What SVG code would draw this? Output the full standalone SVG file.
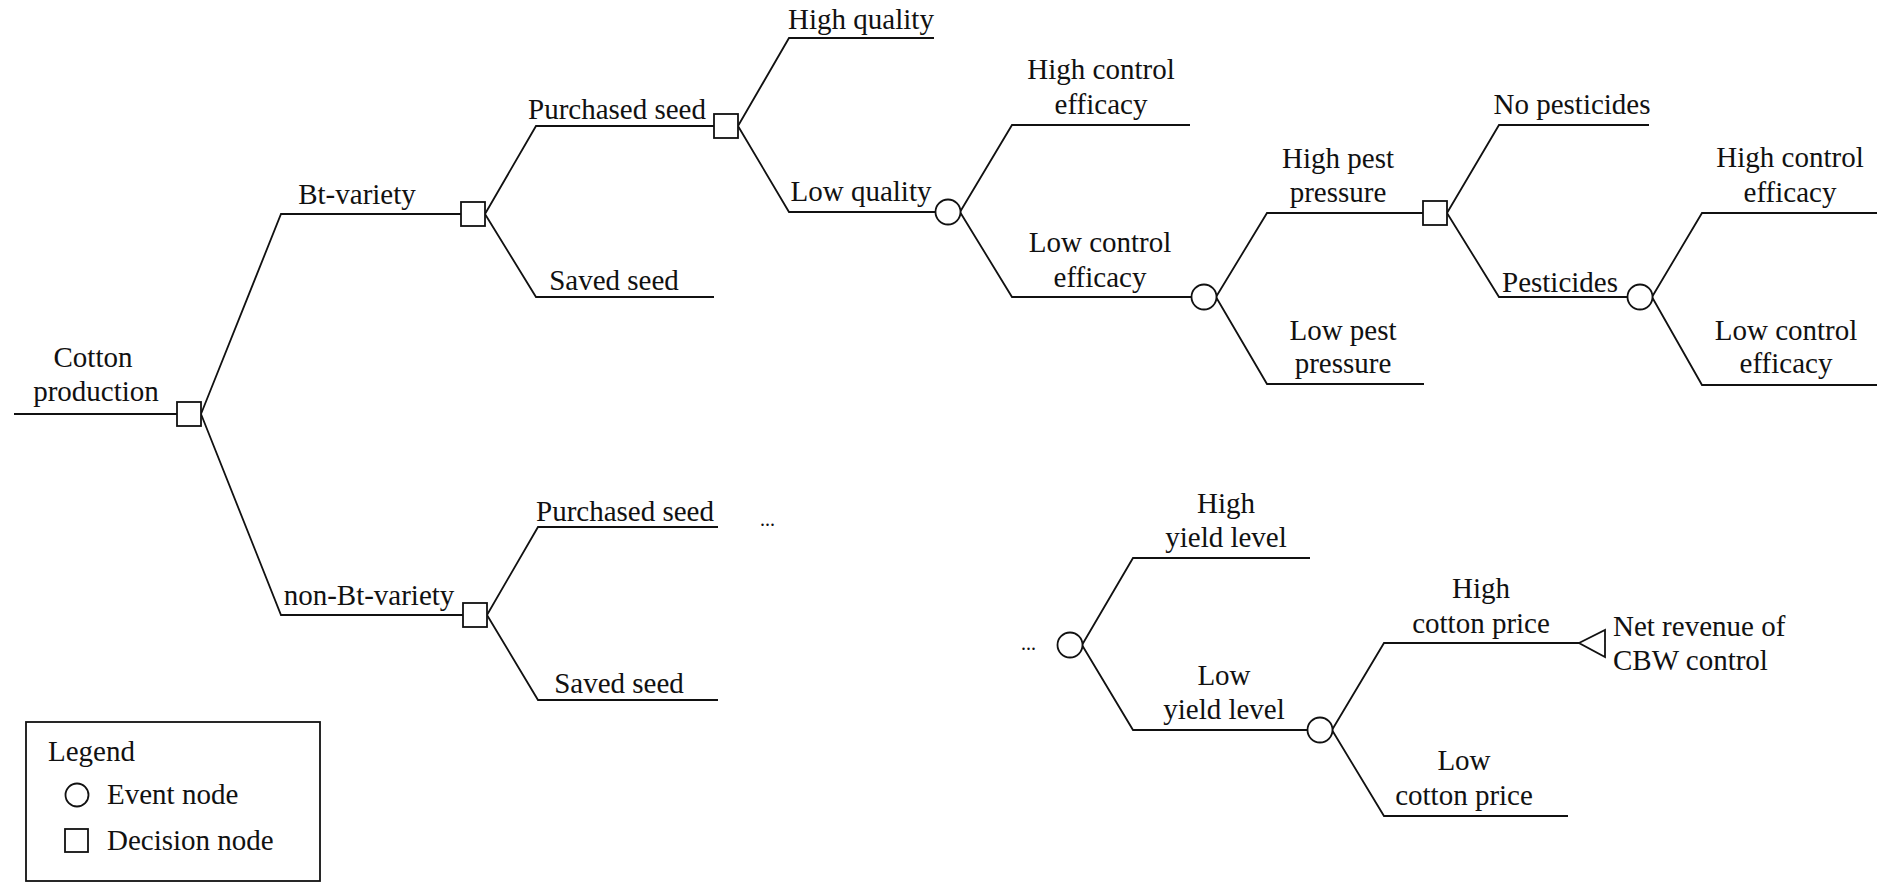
<svg xmlns="http://www.w3.org/2000/svg" width="1887" height="885" viewBox="0 0 1887 885">
<style>
text{font-family:"Liberation Serif","Times New Roman",serif;font-size:29px;fill:#111}
.c{text-anchor:middle}
.dots{font-size:20px}
.e{fill:none;stroke:#111;stroke-width:1.8}
.n{fill:#fff;stroke:#111;stroke-width:1.8}
</style>
<rect width="1887" height="885" fill="#fff"/>
<g id="connectors" class="e">
<path d="M14,414 H177"/>
<path d="M201,414 L281,214 H461"/>
<path d="M201,414 L281,615 H463"/>
<path d="M485,214 L536,126 H714"/>
<path d="M485,214 L536,297 H714"/>
<path d="M738,126 L789,38 H934"/>
<path d="M738,126 L789,212 H935"/>
<path d="M960,212 L1012,125 H1190"/>
<path d="M960,212 L1012,297 H1191"/>
<path d="M1216,297 L1267,213 H1423"/>
<path d="M1216,297 L1267,384 H1424"/>
<path d="M1447,213 L1499,125 H1649"/>
<path d="M1447,213 L1499,297 H1628"/>
<path d="M1652,297 L1702,213 H1877"/>
<path d="M1652,297 L1702,385 H1877"/>
<path d="M487,615 L538,527 H718"/>
<path d="M487,615 L538,700 H718"/>
<path d="M1082,645 L1133,558 H1310"/>
<path d="M1082,645 L1133,730 H1308"/>
<path d="M1332,730 L1384,643 H1579"/>
<path d="M1332,730 L1384,816 H1568"/>
</g>
<g id="root">
<rect class="n" x="177" y="402" width="24" height="24"/>
<text class="c" x="93" y="367">Cotton</text>
<text class="c" x="96" y="401">production</text>
</g>
<g id="bt">
<text class="c" x="357" y="204">Bt-variety</text>
<rect class="n" x="461" y="202" width="24" height="24"/>
</g>
<g id="nonbt">
<text class="c" x="369" y="605">non-Bt-variety</text>
<rect class="n" x="463" y="603" width="24" height="24"/>
</g>
<g id="bt-purchased">
<text class="c" x="617" y="119">Purchased seed</text>
<rect class="n" x="714" y="114" width="24" height="24"/>
</g>
<g id="bt-saved"><text class="c" x="614" y="290">Saved seed</text></g>
<g id="high-quality"><text class="c" x="861" y="29">High quality</text></g>
<g id="low-quality">
<text class="c" x="861" y="201">Low quality</text>
<circle class="n" cx="948" cy="212" r="12.5"/>
</g>
<g id="high-control-1">
<text class="c" x="1101" y="79">High control</text>
<text class="c" x="1101" y="114">efficacy</text>
</g>
<g id="low-control-1">
<text class="c" x="1100" y="252">Low control</text>
<text class="c" x="1100" y="287">efficacy</text>
<circle class="n" cx="1204" cy="297" r="12.5"/>
</g>
<g id="high-pest">
<text class="c" x="1338" y="168">High pest</text>
<text class="c" x="1338" y="202">pressure</text>
<rect class="n" x="1423" y="201" width="24" height="24"/>
</g>
<g id="low-pest">
<text class="c" x="1343" y="340">Low pest</text>
<text class="c" x="1343" y="373">pressure</text>
</g>
<g id="no-pesticides"><text class="c" x="1572" y="114">No pesticides</text></g>
<g id="pesticides">
<text class="c" x="1560" y="292">Pesticides</text>
<circle class="n" cx="1640" cy="297" r="12.5"/>
</g>
<g id="high-control-2">
<text class="c" x="1790" y="167">High control</text>
<text class="c" x="1790" y="202">efficacy</text>
</g>
<g id="low-control-2">
<text class="c" x="1786" y="340">Low control</text>
<text class="c" x="1786" y="373">efficacy</text>
</g>
<g id="nonbt-purchased">
<text class="c" x="625" y="521">Purchased seed</text>
<text class="dots" x="760" y="526">...</text>
</g>
<g id="nonbt-saved"><text class="c" x="619" y="693">Saved seed</text></g>
<g id="yield">
<text class="dots" x="1021" y="650">...</text>
<circle class="n" cx="1070" cy="645" r="12.5"/>
</g>
<g id="high-yield">
<text class="c" x="1226" y="513">High</text>
<text class="c" x="1226" y="547">yield level</text>
</g>
<g id="low-yield">
<text class="c" x="1224" y="685">Low</text>
<text class="c" x="1224" y="719">yield level</text>
<circle class="n" cx="1320" cy="730" r="12.5"/>
</g>
<g id="high-price">
<text class="c" x="1481" y="598">High</text>
<text class="c" x="1481" y="633">cotton price</text>
<path class="n" d="M1579,643 L1605,630 V657 Z"/>
<text x="1613" y="636">Net revenue of</text>
<text x="1613" y="670">CBW control</text>
</g>
<g id="low-price">
<text class="c" x="1464" y="770">Low</text>
<text class="c" x="1464" y="805">cotton price</text>
</g>
<g id="legend">
<rect class="n" x="26" y="722" width="294" height="159"/>
<text x="48" y="761">Legend</text>
<circle class="n" cx="77" cy="795" r="11.5"/>
<text x="107" y="804">Event node</text>
<rect class="n" x="65" y="829" width="23" height="23"/>
<text x="107" y="850">Decision node</text>
</g>
</svg>
